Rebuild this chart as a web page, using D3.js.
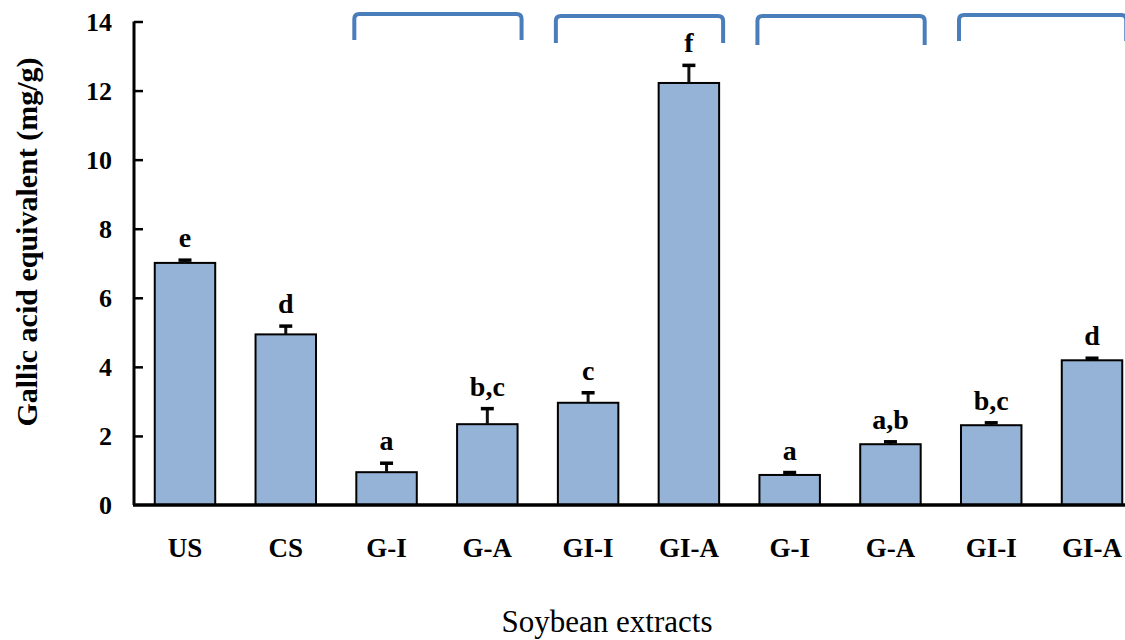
<!DOCTYPE html>
<html>
<head>
<meta charset="utf-8">
<script src="https://cdn.jsdelivr.net/npm/d3@7"></script>
<style>
  html, body { margin: 0; padding: 0; background: #fff; }
  svg { display: block; }
</style>
</head>
<body>
<svg id="chart" width="1125" height="640" font-family="'Liberation Serif', 'Times New Roman', Tinos, 'DejaVu Serif', serif"></svg>
<script>
// Total phenolic content of soybean extracts (gallic acid equivalent, mg/g)
const categories = ["US", "CS", "G-I", "G-A", "GI-I", "GI-A", "G-I", "G-A", "GI-I", "GI-A"];
const values     = [7.01, 4.94, 0.95, 2.34, 2.96, 12.22, 0.87, 1.76, 2.31, 4.19];
const errors     = [0.08, 0.24, 0.26, 0.45, 0.29, 0.51, 0.07, 0.07, 0.07, 0.06];
const letters    = ["e", "d", "a", "b,c", "c", "f", "a", "a,b", "b,c", "d"];
const yTicks     = [0, 2, 4, 6, 8, 10, 12, 14];
// pairs of bar indices grouped under a bracket
const groups     = [[2, 3], [4, 5], [6, 7], [8, 9]];

const svg = d3.select("#chart");
svg.append("rect").attr("width", 1125).attr("height", 640).attr("fill", "#fff");

const idx = categories.map((_, i) => i);
const x = d3.scaleBand().domain(idx).range([134.6, 1142.4]).paddingInner(0.4).paddingOuter(0.2);
const y = d3.scaleLinear().domain([0, 14]).range([505, 21.5]);

// bars
svg.append("g").selectAll("rect").data(idx).join("rect")
  .attr("x", i => x(i))
  .attr("y", i => y(values[i]))
  .attr("width", x.bandwidth())
  .attr("height", i => y(0) - y(values[i]))
  .attr("fill", "#95b3d7")
  .attr("stroke", "#000")
  .attr("stroke-width", 2);

// error bars (upper only)
const eb = svg.append("g");
eb.selectAll("line.stem").data(idx).join("line").attr("class", "stem")
  .attr("x1", i => x(i) + x.bandwidth() / 2).attr("x2", i => x(i) + x.bandwidth() / 2)
  .attr("y1", i => y(values[i])).attr("y2", i => y(values[i] + errors[i]))
  .attr("stroke", "#111").attr("stroke-width", 3);
eb.selectAll("line.cap").data(idx).join("line").attr("class", "cap")
  .attr("x1", i => x(i) + x.bandwidth() / 2 - 6.5).attr("x2", i => x(i) + x.bandwidth() / 2 + 6.5)
  .attr("y1", i => y(values[i] + errors[i])).attr("y2", i => y(values[i] + errors[i]))
  .attr("stroke", "#000").attr("stroke-width", 3.5);

// significance letters
svg.append("g").selectAll("text").data(idx).join("text")
  .attr("x", i => x(i) + x.bandwidth() / 2)
  .attr("y", i => y(values[i] + errors[i]) - 13)
  .attr("text-anchor", "middle")
  .attr("font-size", 28).attr("font-weight", "bold")
  .text(i => letters[i]);

// y axis
const yAxis = svg.append("g").attr("transform", "translate(134,0)")
  .call(d3.axisRight(y).tickValues(yTicks).tickSize(9).tickFormat(""));
yAxis.attr("font-family", null);
yAxis.select(".domain").attr("d", `M0,${y(14)}V${y(0)}`).attr("stroke", "#000").attr("stroke-width", 3);
yAxis.selectAll(".tick line").attr("stroke", "#000").attr("stroke-width", 2.5);
yAxis.selectAll(".tick").filter(d => d === 0).select("line").remove();

svg.append("g").selectAll("text").data(yTicks).join("text")
  .attr("x", 112).attr("y", d => y(d)).attr("dy", "0.36em")
  .attr("text-anchor", "end")
  .attr("font-size", 26).attr("font-weight", "bold")
  .text(d => d);

// x axis line
svg.append("line").attr("x1", 133).attr("x2", 1125).attr("y1", y(0)).attr("y2", y(0))
  .attr("stroke", "#000").attr("stroke-width", 3.5);

// category labels
svg.append("g").selectAll("text").data(idx).join("text")
  .attr("x", i => x(i) + x.bandwidth() / 2)
  .attr("y", 557)
  .attr("text-anchor", "middle")
  .attr("font-size", 27).attr("font-weight", "bold")
  .text(i => categories[i]);

// axis titles
svg.append("text")
  .attr("transform", "translate(37,242) rotate(-90)")
  .attr("text-anchor", "middle")
  .attr("font-size", 30).attr("font-weight", "bold")
  .text("Gallic acid equivalent (mg/g)");

svg.append("text")
  .attr("x", 607).attr("y", 632)
  .attr("text-anchor", "middle")
  .attr("font-size", 31)
  .text("Soybean extracts");

// group brackets above the bars
const bracketTop = [14, 16, 16, 15];
const bracketLeg = [40, 43, 45, 41];
svg.append("g").selectAll("path").data(groups).join("path")
  .attr("d", (g, k) => {
    const x0 = x(g[0]) - 2, x1 = x(g[1]) + x.bandwidth() + 4;
    const t = bracketTop[k], b = bracketLeg[k], r = 5;
    return `M${x0},${b}V${t + r}Q${x0},${t} ${x0 + r},${t}H${x1 - r}Q${x1},${t} ${x1},${t + r}V${b}`;
  })
  .attr("fill", "none")
  .attr("stroke", "#4a7ebb")
  .attr("stroke-width", 4);
</script>
</body>
</html>
